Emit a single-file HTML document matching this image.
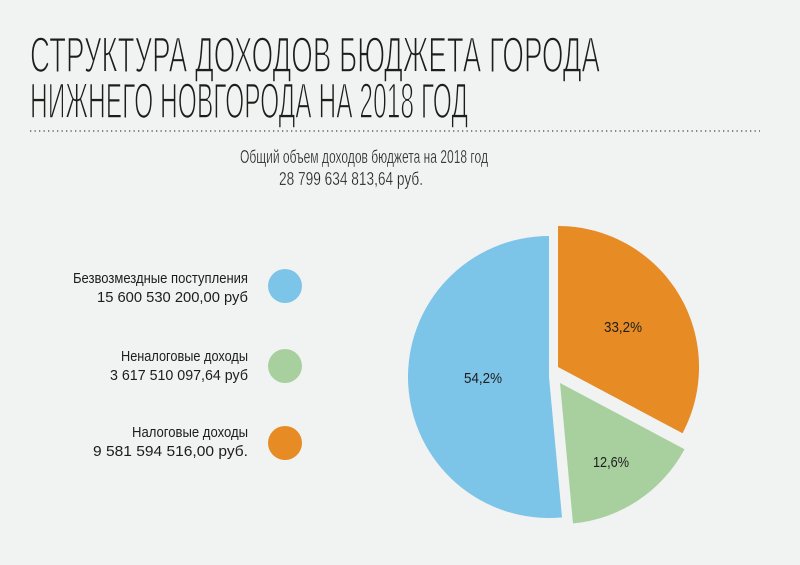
<!DOCTYPE html>
<html><head><meta charset="utf-8"><style>html,body{margin:0;padding:0;background:#f1f2f2}svg{display:block}</style></head>
<body>
<svg width="800" height="565" viewBox="0 0 800 565" xmlns="http://www.w3.org/2000/svg" font-family="Liberation Sans, sans-serif" fill="#1d1d1b">
<rect width="800" height="565" fill="#f1f2f2"/>
<g stroke="#f1f2f2" stroke-width="1.6">
<text x="30" y="72" font-size="50" textLength="570" lengthAdjust="spacingAndGlyphs">СТРУКТУРА ДОХОДОВ БЮДЖЕТА ГОРОДА</text>
<text x="30" y="118" font-size="50" textLength="438" lengthAdjust="spacingAndGlyphs">НИЖНЕГО НОВГОРОДА НА 2018 ГОД</text>
</g>
<line x1="30" y1="131" x2="760" y2="131" stroke="#444" stroke-width="1.3" stroke-dasharray="1.3 3.2"/>
<g stroke="#f1f2f2" stroke-width="0.3">
<text x="240" y="163" font-size="18" textLength="248" lengthAdjust="spacingAndGlyphs">Общий объем доходов бюджета на 2018 год</text>
<text x="279" y="185" font-size="18" textLength="144" lengthAdjust="spacingAndGlyphs">28 799 634 813,64 руб.</text>
</g>
<g font-size="15">
<text x="73" y="283" textLength="175" lengthAdjust="spacingAndGlyphs">Безвозмездные поступления</text>
<text x="97" y="302" textLength="151" lengthAdjust="spacingAndGlyphs">15 600 530 200,00 руб</text>
<text x="121" y="361" textLength="127" lengthAdjust="spacingAndGlyphs">Неналоговые доходы</text>
<text x="110" y="380" textLength="138" lengthAdjust="spacingAndGlyphs">3 617 510 097,64 руб</text>
<text x="132" y="437" textLength="116" lengthAdjust="spacingAndGlyphs">Налоговые доходы</text>
<text x="93" y="456" textLength="155" lengthAdjust="spacingAndGlyphs">9 581 594 516,00 руб.</text>
</g>
<circle cx="285" cy="286" r="17" fill="#7dc4e9"/>
<circle cx="285" cy="366" r="17" fill="#a8d09f"/>
<circle cx="285" cy="443" r="17" fill="#e78b25"/>

<path d="M549,377 L562,517.4 A141,141 0 1,1 549,236 Z" fill="#7dc4e9"/>
<path d="M558,367 L558,226 A141,141 0 0,1 682.5,433.2 Z" fill="#e78b25"/>
<path d="M560,383 L684.5,449.2 A141,141 0 0,1 573,523.4 Z" fill="#a8d09f"/>

<g font-size="15" text-anchor="middle">
<text x="483" y="383" textLength="38" lengthAdjust="spacingAndGlyphs">54,2%</text>
<text x="623" y="332" textLength="38" lengthAdjust="spacingAndGlyphs">33,2%</text>
<text x="611" y="467" textLength="36" lengthAdjust="spacingAndGlyphs">12,6%</text>
</g>
</svg>
</body></html>
